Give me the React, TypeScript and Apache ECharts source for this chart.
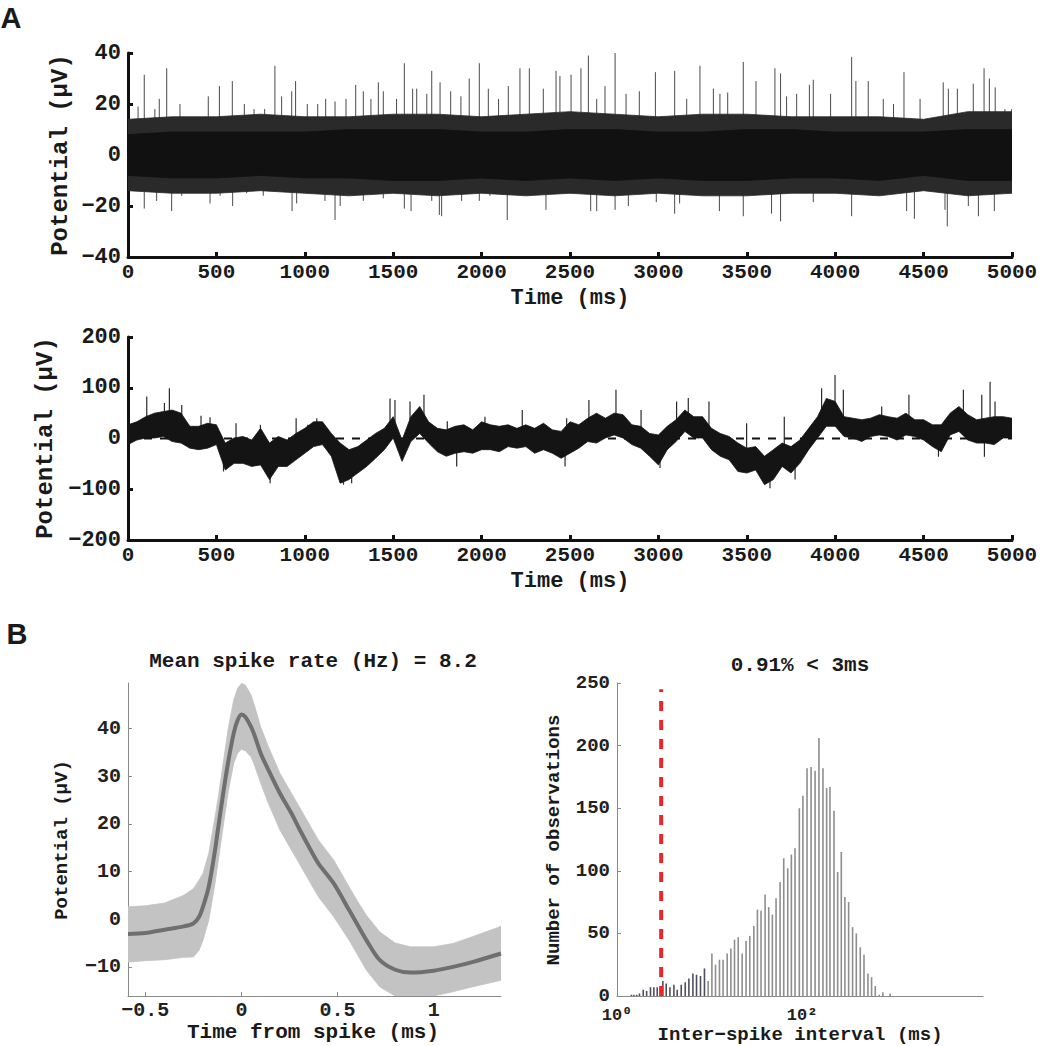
import React, { useEffect, useRef } from "react";
import * as echarts from "echarts";

const MONO = '"Liberation Mono", "Courier New", "DejaVu Sans Mono", monospace';
const SANS = '"Liberation Sans", Arial, sans-serif';

// ---------- Panel A (top): high-pass trace with spikes ----------
const bandT = [0, 250, 500, 750, 1000, 1250, 1500, 1750, 2000, 2250, 2500, 2750, 3000, 3250, 3500, 3750, 4000, 4250, 4500, 4750, 5000];
const bandOuterHi = [14, 15, 15, 16, 15, 15, 16, 16, 15, 16, 17, 16, 15, 16, 16, 15, 15, 15, 14, 17, 17];
const bandOuterLo = [-14, -15, -15, -14, -15, -16, -15, -16, -15, -16, -15, -16, -15, -16, -16, -15, -15, -16, -14, -16, -15];
const bandInnerHi = [8, 9, 9, 9, 9, 10, 10, 10, 9, 9, 10, 10, 9, 9, 10, 10, 9, 9, 9, 10, 10];
const bandInnerLo = [-8, -9, -9, -8, -9, -9, -10, -10, -9, -10, -9, -10, -9, -10, -10, -9, -9, -10, -8, -10, -10];
const spikesUp = [
  [57, 19], [92, 31.5], [152, 18], [177, 22], [219, 34], [294, 20], [454, 23], [517, 27], [590, 29], [658, 20],
  [713, 18], [773, 18], [831, 35], [869, 23], [926, 25], [948, 29], [1014, 20], [1073, 20], [1118, 22], [1171, 21],
  [1233, 22], [1288, 27.5], [1331, 25], [1374, 22], [1416, 28.5], [1444, 25], [1519, 22], [1563, 36], [1610, 26], [1633, 26],
  [1690, 24], [1718, 33], [1765, 28.5], [1825, 25], [1883, 23], [1930, 30], [1987, 36], [2038, 26], [2096, 22], [2151, 27],
  [2217, 34], [2270, 34], [2349, 26], [2421, 33], [2443, 31], [2506, 31.5], [2562, 34], [2604, 39], [2651, 22], [2698, 27],
  [2755, 40], [2817, 24], [2892, 25], [2983, 32.5], [3092, 33], [3160, 22], [3235, 35], [3311, 26], [3348, 24], [3392, 24.5],
  [3480, 36.5], [3552, 29], [3659, 34], [3691, 32], [3725, 23], [3782, 24], [3854, 27.5], [3876, 29.5], [3974, 24], [4093, 38.5],
  [4117, 29], [4187, 29], [4272, 22], [4330, 20], [4389, 32.5], [4480, 22], [4611, 28.5], [4640, 26], [4691, 26], [4781, 28],
  [4842, 34], [4872, 30], [4905, 26.5], [4960, 18], [4998, 18],
];
const spikesDown = [
  [92, -21], [162, -18], [247, -22], [304, -16], [464, -19], [521, -16], [592, -20], [671, -15], [765, -16], [928, -22],
  [954, -19], [1114, -18], [1171, -25.5], [1200, -20], [1331, -18], [1444, -17], [1563, -21], [1601, -22], [1718, -18], [1761, -23.5],
  [1774, -24], [1887, -18], [1987, -18], [2047, -16], [2145, -25.5], [2364, -21.5], [2507, -15], [2617, -22], [2651, -22], [2755, -21.5],
  [2830, -20], [2988, -18.5], [3092, -23], [3120, -19], [3345, -22], [3480, -24], [3640, -23], [3691, -26], [3876, -18.5], [4093, -24],
  [4404, -22], [4448, -25], [4621, -21.5], [4634, -28], [4753, -20], [4810, -24], [4900, -22],
];

// ---------- Panel A (bottom): low-frequency trace ----------
const lfpT = [
  0, 50, 100, 150, 200, 250, 300, 350, 400, 450, 500, 550, 600, 650, 700, 750, 800, 850, 900, 950,
  1000, 1050, 1100, 1150, 1200, 1250, 1300, 1350, 1400, 1450, 1500, 1550, 1600, 1650, 1700, 1750, 1800, 1850, 1900, 1950,
  2000, 2050, 2100, 2150, 2200, 2250, 2300, 2350, 2400, 2450, 2500, 2550, 2600, 2650, 2700, 2750, 2800, 2850, 2900, 2950,
  3000, 3050, 3100, 3150, 3200, 3250, 3300, 3350, 3400, 3450, 3500, 3550, 3600, 3650, 3700, 3750, 3800, 3850, 3900, 3950,
  4000, 4050, 4100, 4150, 4200, 4250, 4300, 4350, 4400, 4450, 4500, 4550, 4600, 4650, 4700, 4750, 4800, 4850, 4900, 4950, 5000,
];
const lfpHi = [
  27, 33, 43, 50, 53, 56, 50, 24, 24, 30, 27, -9, 1, 4, -3, 20, -9, 4, -3, 10,
  20, 33, 33, 10, -9, -22, -16, -3, 10, 20, 43, -3, 43, 63, 33, 20, 17, 24, 27, 17,
  33, 27, 24, 27, 20, 27, 20, 30, 17, 14, 33, 27, 40, 50, 40, 50, 47, 27, 24, 10,
  7, 24, 37, 56, 43, 43, 20, 10, 4, -9, -19, -16, -35, -22, -9, -16, -3, 20, 43, 79,
  73, 43, 40, 37, 40, 47, 43, 40, 50, 37, 37, 27, 27, 50, 63, 47, 37, 40, 43, 43, 40,
];
const lfpLo = [
  -12, -3, 1, 1, 4, -6, -9, -19, -22, -19, -12, -62, -49, -49, -55, -52, -81, -55, -55, -42,
  -29, -16, -12, -35, -88, -81, -68, -55, -39, -22, 1, -45, -6, 10, -9, -26, -35, -29, -26, -29,
  -22, -22, -26, -16, -19, -16, -29, -22, -29, -39, -29, -19, -6, -9, 1, 7, 1, -12, -19, -35,
  -52, -22, -6, 14, 1, 1, -22, -35, -42, -65, -68, -62, -91, -81, -55, -68, -49, -22, 1, 24,
  24, 4, 1, -6, 4, 7, 4, -3, 7, 4, -3, -16, -26, 7, 14, -3, -9, -9, -12, 1, 1,
];
const lfpSpikes = [
  [106, 83], [206, 70], [234, 99], [304, 66], [413, 45], [464, 42], [611, 30], [749, 27], [951, 40], [1017, 27],
  [1068, 40], [1482, 79], [1510, 76], [1595, 73], [1674, 86], [1806, 34], [2019, 43], [2230, 56], [2481, 40], [2607, 76],
  [2760, 96], [2902, 56], [3103, 73], [3169, 80], [3286, 73], [3499, 30], [3712, 43], [3923, 99], [3999, 125], [4046, 96],
  [4263, 63], [4417, 86], [4725, 96], [4829, 86], [4876, 112], [4904, 73],
  [540, -65], [804, -88], [1219, -91], [1265, -88], [1859, -55], [2472, -55], [3009, -58], [3631, -98], [3773, -81], [4584, -36], [4844, -36],
];

// ---------- Panel B (left): mean spike waveform ----------
const waveT = [-0.59, -0.5, -0.4, -0.3, -0.25, -0.22, -0.2, -0.17, -0.14, -0.12, -0.1, -0.07, -0.04, -0.02, 0, 0.02, 0.05, 0.07, 0.1, 0.14, 0.2, 0.26, 0.3, 0.36, 0.4, 0.48, 0.56, 0.6, 0.65, 0.72, 0.8, 0.88, 1.0, 1.1, 1.2, 1.35];
const waveMean = [-3.1, -2.9, -2.2, -1.5, -0.9, 0.5, 2.6, 6.8, 13.8, 19.4, 25, 32.7, 39, 41.7, 42.9, 42.4, 40.3, 38.3, 34.8, 31.3, 26.4, 22.2, 19, 14.5, 11.7, 7.5, 1.9, -0.9, -4.4, -8.6, -10.6, -11.2, -10.8, -10, -9, -7.2];
const waveHi = [2.6, 2.8, 3.4, 5, 6.4, 8.2, 9.6, 13.8, 20.8, 25.7, 31.3, 39.7, 46, 48.4, 49.4, 49.1, 47, 44.5, 40.3, 36.2, 30.6, 26.4, 23.6, 19.4, 16.6, 12.4, 6.8, 4, 0.8, -2.7, -5, -5.8, -5.8, -5.1, -3.7, -1.5];
const waveLo = [-9, -8.7, -8.5, -8, -7.9, -6.5, -4.4, -0.2, 6.8, 12.4, 18, 26.4, 32.7, 34.8, 35.6, 35.3, 34, 32, 28.5, 24.3, 18.7, 14.5, 11.7, 7.5, 4.7, 0.5, -4.4, -7.2, -10.7, -14.2, -16.6, -17.3, -16.6, -15.2, -14.2, -12.8];
const waveTicks = [-0.5, 0, 0.5, 1];
const waveYTicks = [-10, 0, 10, 20, 30, 40];

// ---------- Panel B (right): inter-spike interval histogram ----------
const isiBins = [1.43, 1.52, 1.63, 1.75, 1.92, 2.09, 2.3, 2.5, 2.72, 2.95, 3.13, 3.4, 3.73, 4.12, 4.47, 4.94, 5.46, 5.98, 6.61, 7.23, 7.98, 8.81, 9.66, 10.6, 11.6, 12.8, 14.0, 15.5, 17.0, 18.6, 20.4, 22.5, 24.8, 27.2, 30.1, 32.9, 36.0, 39.8, 43.6, 47.7, 52.3, 57.8, 63.3, 69.9, 76.5, 83.8, 93.3, 102, 113, 125, 138, 152, 168, 184, 200, 221, 242, 265, 290, 318, 351, 385, 425, 466, 514, 563, 617, 681, 746, 894];
const isiCounts = [1, 1, 1, 2, 5, 4, 7, 7, 7, 7, 12, 10, 7, 9, 5, 9, 11, 14, 18, 17, 16, 22, 12, 34, 25, 29, 29, 34, 38, 45, 47, 34, 44, 48, 56, 69, 68, 81, 71, 65, 78, 91, 110, 102, 113, 118, 150, 160, 182, 183, 180, 206, 182, 166, 167, 148, 99, 115, 79, 75, 55, 50, 39, 33, 18, 15, 8, 1, 3, 2];
const refractoryLine = [[3, 0], [3, 245]];
const isiXLabels = [1, 100];

const minus = (v: any) => String(v).replace("-", "\u2212");

function polygonBand(idx: number, xs: number[], hi: number[], lo: number[], fill: string, z: number, clampMin?: number) {
  return {
    type: "custom",
    xAxisIndex: idx,
    yAxisIndex: idx,
    coordinateSystem: "cartesian2d",
    clip: true,
    silent: true,
    z,
    data: [[xs[0], hi[0]]],
    renderItem: (_p: any, api: any) => {
      const pts: number[][] = [];
      for (let i = 0; i < xs.length; i++) pts.push(api.coord([xs[i], hi[i]]));
      for (let i = xs.length - 1; i >= 0; i--) {
        const v = clampMin !== undefined ? Math.max(lo[i], clampMin) : lo[i];
        pts.push(api.coord([xs[i], v]));
      }
      return { type: "polygon", shape: { points: pts }, style: { fill, stroke: fill, lineWidth: 0.8 } };
    },
  };
}

function segSeries(idx: number, data: number[][], color: string, width: number, z: number) {
  return {
    type: "custom",
    xAxisIndex: idx,
    yAxisIndex: idx,
    coordinateSystem: "cartesian2d",
    clip: true,
    silent: true,
    z,
    encode: { x: 0, y: [1, 2] },
    data,
    renderItem: (_p: any, api: any) => {
      const a = api.coord([api.value(0), api.value(1)]);
      const b = api.coord([api.value(0), api.value(2)]);
      return { type: "line", shape: { x1: a[0], y1: a[1], x2: b[0], y2: b[1] }, style: { stroke: color, lineWidth: width } };
    },
  };
}

function lfpMid(t: number) {
  const i = Math.max(0, Math.min(lfpT.length - 1, Math.round(t / 50)));
  return (lfpHi[i] + lfpLo[i]) / 2;
}

const thickAxis = {
  axisLine: { show: true, onZero: false, lineStyle: { color: "#111", width: 3 } },
  axisTick: { show: true, inside: true, length: 5, lineStyle: { color: "#111", width: 3 } },
  splitLine: { show: false },
};
const thickLabel = { color: "#1a1a1a", fontFamily: MONO, fontWeight: "bold", fontSize: 21, lineHeight: 19, formatter: minus };

const thinAxis = {
  axisLine: { show: true, onZero: false, lineStyle: { color: "#8a8a8a", width: 1 } },
  splitLine: { show: false },
};
const thinLabel = { color: "#222", fontFamily: MONO, fontWeight: "bold", fontSize: 18, lineHeight: 16 };

function txt(text: string, x: number, y: number, size: number, rot = 0, family = MONO, weight = "bold") {
  return {
    type: "text",
    x,
    y,
    rotation: rot,
    silent: true,
    style: {
      text, fill: "#1a1a1a", fontFamily: family, fontWeight: weight, fontSize: size,
      lineHeight: Math.round(size * 0.85), align: "center", verticalAlign: "middle",
    },
  };
}

function buildOption(): any {
  return {
    animation: false,
    backgroundColor: "#fff",
    grid: [
      { left: 128, top: 53, width: 884, height: 204 },
      { left: 128, top: 337, width: 884, height: 203 },
      { left: 128, top: 683, width: 373, height: 313 },
      { left: 617, top: 683, width: 366, height: 313 },
    ],
    xAxis: [
      { gridIndex: 0, type: "value", min: 0, max: 5000, interval: 500, ...thickAxis, axisLabel: { ...thickLabel, margin: 6 } },
      { gridIndex: 1, type: "value", min: 0, max: 5000, interval: 500, ...thickAxis, axisLabel: { ...thickLabel, margin: 6 } },
      {
        gridIndex: 2, type: "value", min: -0.59, max: 1.35, ...thinAxis,
        axisTick: { show: true, inside: true, length: 4, lineStyle: { color: "#8a8a8a" }, customValues: waveTicks },
        axisLabel: { ...thinLabel, fontSize: 20, margin: 6, customValues: waveTicks, formatter: minus },
      },
      {
        gridIndex: 3, type: "log", logBase: 10, min: 1, max: 9000, ...thinAxis,
        axisTick: { show: false },
        axisLabel: {
          ...thinLabel, fontSize: 17, lineHeight: 15, margin: 12, customValues: isiXLabels,
          formatter: (v: number) => {
            const e = Math.round(Math.log10(v));
            return e === 0 ? "10\u2070" : e === 2 ? "10\u00B2" : "";
          },
        },
      },
    ],
    yAxis: [
      { gridIndex: 0, type: "value", min: -40, max: 40, interval: 20, ...thickAxis, axisLabel: { ...thickLabel, fontSize: 22, margin: 7 } },
      { gridIndex: 1, type: "value", min: -200, max: 200, interval: 100, ...thickAxis, axisLabel: { ...thickLabel, fontSize: 22, margin: 7 } },
      {
        gridIndex: 2, type: "value", min: -16.1, max: 49.5, ...thinAxis,
        axisTick: { show: true, inside: true, length: 4, lineStyle: { color: "#8a8a8a" }, customValues: waveYTicks },
        axisLabel: { ...thinLabel, fontSize: 20, margin: 7, customValues: waveYTicks, formatter: minus },
      },
      {
        gridIndex: 3, type: "value", min: 0, max: 250, interval: 50, ...thinAxis,
        axisTick: { show: true, inside: true, length: 4, lineStyle: { color: "#8a8a8a" } },
        axisLabel: { ...thinLabel, fontSize: 19, margin: 7 },
      },
    ],
    series: [
      // Panel A top
      segSeries(0, spikesUp.map(([t, v]) => [t, 0, v]), "#4a4a4a", 1, 1),
      segSeries(0, spikesDown.map(([t, v]) => [t, 0, v]), "#4a4a4a", 1, 1),
      polygonBand(0, bandT, bandOuterHi, bandOuterLo, "#2a2a2a", 2),
      polygonBand(0, bandT, bandInnerHi, bandInnerLo, "#111111", 3),
      // Panel A bottom
      {
        type: "line", xAxisIndex: 1, yAxisIndex: 1, data: [[0, 0], [5000, 0]], showSymbol: false, silent: true, z: 1,
        lineStyle: { color: "#111", width: 2, type: [8, 8] },
      },
      segSeries(1, lfpSpikes.map(([t, v]) => [t, lfpMid(t), v]), "#2a2a2a", 1.2, 2),
      polygonBand(1, lfpT, lfpHi, lfpLo, "#141414", 3),
      // Panel B left
      polygonBand(2, waveT, waveHi, waveLo, "#c3c3c3", 1, -16.1),
      {
        type: "line", xAxisIndex: 2, yAxisIndex: 2, data: waveT.map((t, i) => [t, waveMean[i]]), showSymbol: false,
        smooth: 0.3, silent: true, clip: true, z: 2, lineStyle: { color: "#6f6f6f", width: 4 },
      },
      // Panel B right
      {
        type: "custom", xAxisIndex: 3, yAxisIndex: 3, coordinateSystem: "cartesian2d", silent: true, z: 2,
        data: isiBins.map((b, i) => [b, isiCounts[i]]),
        renderItem: (_p: any, api: any) => {
          const x = api.value(0);
          const a = api.coord([x, 0]);
          const b = api.coord([x, api.value(1)]);
          return {
            type: "rect",
            shape: { x: a[0] - 0.8, y: b[1], width: 1.6, height: Math.max(0.8, a[1] - b[1]) },
            style: { fill: x < 9 ? "#4d5060" : "#8e8e8e" },
          };
        },
      },
      {
        type: "line", xAxisIndex: 3, yAxisIndex: 3, data: refractoryLine, showSymbol: false, silent: true, z: 4,
        lineStyle: { color: "#e8272b", width: 4, type: [10, 9] },
      },
    ],
    graphic: [
      txt("A", 11, 18, 29, 0, SANS, "bold"),
      txt("B", 17, 634, 29, 0, SANS, "bold"),
      txt("Potential (\u00B5V)", 60, 155, 24, Math.PI / 2),
      txt("Time (ms)", 570, 298, 22),
      txt("Potential (\u00B5V)", 45, 438, 24, Math.PI / 2),
      txt("Time (ms)", 570, 581, 22),
      txt("Mean spike rate (Hz) = 8.2", 313, 661, 21),
      txt("Potential (\u00B5V)", 62, 840, 19, Math.PI / 2),
      txt("Time from spike (ms)", 313, 1032, 21),
      txt("0.91% < 3ms", 800, 665, 21),
      txt("Number of observations", 554, 840, 19, Math.PI / 2),
      txt("Inter\u2212spike interval (ms)", 800, 1035, 19),
    ],
  };
}

export default function App() {
  const ref = useRef<HTMLDivElement>(null);
  useEffect(() => {
    if (!ref.current) return;
    const chart = echarts.init(ref.current, null, { renderer: "svg" });
    chart.setOption(buildOption());
    return () => chart.dispose();
  }, []);
  return <div ref={ref} style={{ position: "absolute", left: 0, top: 0, width: 1050, height: 1046, background: "#fff" }} />;
}
